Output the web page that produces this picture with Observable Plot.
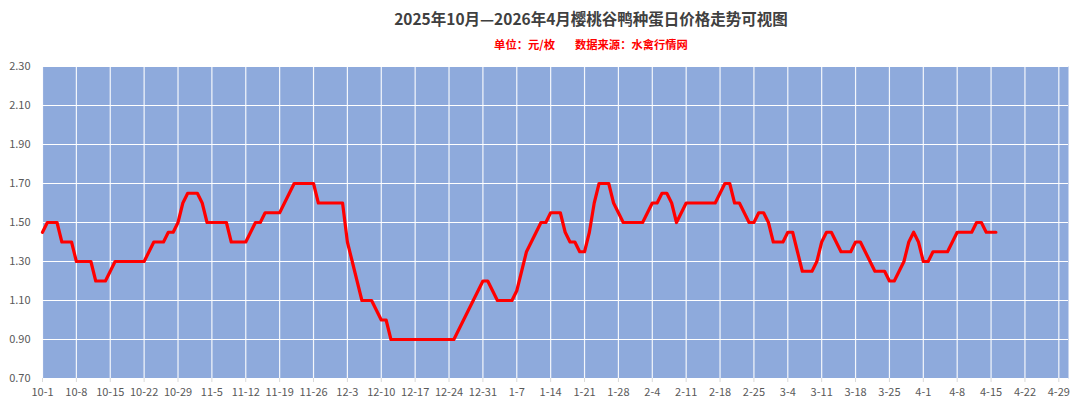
<!DOCTYPE html>
<html>
<head>
<meta charset="utf-8">
<script src="https://cdn.jsdelivr.net/npm/d3@7"></script>
<script src="https://cdn.jsdelivr.net/npm/@observablehq/plot@0.6"></script>
<style>
  html, body { margin: 0; padding: 0; background: #ffffff; }
  #wrap { position: relative; width: 1080px; height: 408px; overflow: hidden; font-family: "Noto Sans CJK SC", "Noto Sans", sans-serif; }
  #title { position: absolute; top: 7px; left: 591px; transform: translateX(-50%); white-space: nowrap;
           font-size: 15.5px; font-weight: bold; color: #404040; line-height: 22px; }
  #subtitle { position: absolute; top: 36px; left: 591px; transform: translateX(-50%); white-space: nowrap;
              font-size: 11.3px; font-weight: bold; color: #ff0000; line-height: 16px; }
  #subtitle .gap { display: inline-block; width: 20px; }
  #chart { position: absolute; top: 56px; left: 0; }
</style>
</head>
<body>
<div id="wrap">
  <div id="title">2025年10月—2026年4月樱桃谷鸭种蛋日价格走势可视图</div>
  <div id="subtitle">单位：元/枚<span class="gap"></span>数据来源：水禽行情网</div>
  <div id="chart"></div>
</div>
<script>
// Daily price series starting on this date (one value per day)
const startDate = "2025-10-01";
const endDate = "2026-05-01";
const prices = [
  1.45,1.50,1.50,1.50,1.40,1.40,1.40,   // 10-1
  1.30,1.30,1.30,1.30,1.20,1.20,1.20,   // 10-8
  1.25,1.30,1.30,1.30,1.30,1.30,1.30,   // 10-15
  1.30,1.35,1.40,1.40,1.40,1.45,1.45,   // 10-22
  1.50,1.60,1.65,1.65,1.65,1.60,1.50,   // 10-29
  1.50,1.50,1.50,1.50,1.40,1.40,1.40,   // 11-5
  1.40,1.45,1.50,1.50,1.55,1.55,1.55,   // 11-12
  1.55,1.60,1.65,1.70,1.70,1.70,1.70,   // 11-19
  1.70,1.60,1.60,1.60,1.60,1.60,1.60,   // 11-26
  1.40,1.30,1.20,1.10,1.10,1.10,1.05,   // 12-3
  1.00,1.00,0.90,0.90,0.90,0.90,0.90,   // 12-10
  0.90,0.90,0.90,0.90,0.90,0.90,0.90,   // 12-17
  0.90,0.90,0.95,1.00,1.05,1.10,1.15,   // 12-24
  1.20,1.20,1.15,1.10,1.10,1.10,1.10,   // 12-31
  1.15,1.25,1.35,1.40,1.45,1.50,1.50,   // 1-7
  1.55,1.55,1.55,1.45,1.40,1.40,1.35,   // 1-14
  1.35,1.45,1.60,1.70,1.70,1.70,1.60,   // 1-21
  1.55,1.50,1.50,1.50,1.50,1.50,1.55,   // 1-28
  1.60,1.60,1.65,1.65,1.60,1.50,1.55,   // 2-4
  1.60,1.60,1.60,1.60,1.60,1.60,1.60,   // 2-11
  1.65,1.70,1.70,1.60,1.60,1.55,1.50,   // 2-18
  1.50,1.55,1.55,1.50,1.40,1.40,1.40,   // 2-25
  1.45,1.45,1.35,1.25,1.25,1.25,1.30,   // 3-4
  1.40,1.45,1.45,1.40,1.35,1.35,1.35,   // 3-11
  1.40,1.40,1.35,1.30,1.25,1.25,1.25,   // 3-18
  1.20,1.20,1.25,1.30,1.40,1.45,1.40,   // 3-25
  1.30,1.30,1.35,1.35,1.35,1.35,1.40,   // 4-1
  1.45,1.45,1.45,1.45,1.50,1.50,1.45,   // 4-8
  1.45,1.45                             // 4-15
];
const tickLabels = ["10-1","10-8","10-15","10-22","10-29","11-5","11-12","11-19","11-26","12-3",
  "12-10","12-17","12-24","12-31","1-7","1-14","1-21","1-28","2-4","2-11","2-18","2-25",
  "3-4","3-11","3-18","3-25","4-1","4-8","4-15","4-22","4-29"];
const yTicks = [0.70, 0.90, 1.10, 1.30, 1.50, 1.70, 1.90, 2.10, 2.30];

const DAY = 86400000;
const t0 = new Date(startDate + "T00:00:00Z");
const data = prices.map((v, i) => ({date: new Date(t0.getTime() + i * DAY), price: v}));
const xTicks = tickLabels.map((s, i) => new Date(t0.getTime() + i * 7 * DAY));
const labelOf = new Map(xTicks.map((d, i) => [d.getTime(), tickLabels[i]]));

const chart = Plot.plot({
  width: 1080,
  height: 352,
  marginLeft: 42,
  marginRight: 12,
  marginTop: 10,
  marginBottom: 30,
  style: {fontFamily: "'Noto Sans CJK SC', 'Noto Sans', sans-serif", fontSize: "11px", background: "transparent"},
  x: {type: "utc", domain: [t0, new Date(endDate + "T00:00:00Z")]},
  y: {domain: [0.70, 2.30]},
  marks: [
    Plot.frame({fill: "#8eaadc", stroke: null}),
    Plot.gridY(yTicks, {stroke: "#ffffff", strokeOpacity: 1, strokeWidth: 1.2}),
    Plot.gridX(xTicks, {stroke: "#ffffff", strokeOpacity: 0.9, strokeWidth: 1.2}),
    Plot.axisY(yTicks, {tickSize: 0, tickPadding: 12, tickFormat: d3.format(".2f"), label: null, fill: "#595959"}),
    Plot.axisX(xTicks, {tickSize: 4, tickPadding: 6, stroke: "#d9d9d9", tickFormat: d => labelOf.get(d.getTime()), label: null, fill: "#595959"}),
    Plot.line(data, {x: "date", y: "price", stroke: "#ff0000", strokeWidth: 3.2, strokeLinejoin: "round", strokeLinecap: "round"})
  ]
});
document.getElementById("chart").appendChild(chart);
</script>
</body>
</html>
